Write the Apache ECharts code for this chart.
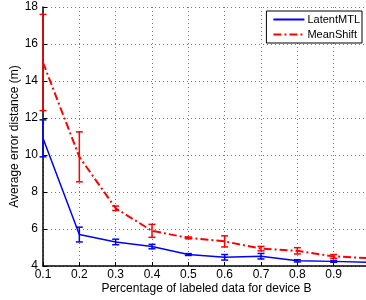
<!DOCTYPE html>
<html>
<head>
<meta charset="utf-8">
<script src="https://cdn.jsdelivr.net/npm/echarts@6/dist/echarts.min.js"></script>
<style>
  html, body { margin: 0; padding: 0; background: #fff; }
  #chart { width: 366px; height: 300px; }
</style>
</head>
<body>
<div id="chart"></div>
<script>
// 横轴：已标注数据比例
var ratios = [0.1, 0.2, 0.3, 0.4, 0.5, 0.6, 0.7, 0.8, 0.9, 1.0];
// 两条曲线的均值
var latentMean = [10.9, 5.7, 5.3, 5.05, 4.62, 4.47, 4.53, 4.28, 4.25, 4.2];
var meanShiftMean = [15.0, 9.9, 7.12, 5.9, 5.52, 5.33, 4.94, 4.82, 4.52, 4.42];
// 误差棒半宽
var latentErr = [1.0, 0.4, 0.15, 0.12, 0.05, 0.15, 0.15, 0.06, 0.05, 0.05];
var meanShiftErr = [2.6, 1.35, 0.12, 0.35, 0.05, 0.3, 0.12, 0.17, 0.1, 0.08];

function pairs(xs, ys) {
  return xs.map(function (x, i) { return [x, ys[i]]; });
}
function bars(xs, ys, es) {
  return xs.map(function (x, i) { return [x, ys[i] - es[i], ys[i] + es[i]]; });
}
// 误差棒绘制
function errorBar(color) {
  return function (params, api) {
    var lo = api.coord([api.value(0), api.value(1)]);
    var hi = api.coord([api.value(0), api.value(2)]);
    var w = 3.5;
    var style = { stroke: color, lineWidth: 1.5 };
    return {
      type: 'group',
      children: [
        { type: 'line', shape: { x1: lo[0], y1: lo[1], x2: hi[0], y2: hi[1] }, style: style },
        { type: 'line', shape: { x1: lo[0] - w, y1: lo[1], x2: lo[0] + w, y2: lo[1] }, style: style },
        { type: 'line', shape: { x1: hi[0] - w, y1: hi[1], x2: hi[0] + w, y2: hi[1] }, style: style }
      ]
    };
  };
}

var myChart = echarts.init(document.getElementById('chart'));
var font = 'Liberation Sans, Arial, sans-serif';

myChart.setOption({
  animation: false,
  grid: { left: 43, top: 7, bottom: 34, right: -4, outerBoundsMode: 'none', containLabel: false },
  legend: {
    orient: 'vertical',
    right: 4,
    top: 11,
    data: [
      { name: 'LatentMTL', itemStyle: { opacity: 0 } },
      { name: 'MeanShift', itemStyle: { opacity: 0 } }
    ],
    backgroundColor: '#fff',
    borderColor: '#000',
    borderWidth: 1,
    borderRadius: 0,
    padding: [3, 2, 3, 6],
    itemGap: 4,
    itemWidth: 31,
    itemHeight: 12,
    textStyle: { fontFamily: font, fontSize: 11, color: '#000', padding: [0, 0, 0, -2] }
  },
  xAxis: {
    type: 'value',
    min: 0.1,
    max: 1.0,
    interval: 0.1,
    name: 'Percentage of labeled data for device B',
    nameLocation: 'middle',
    nameGap: 17,
    nameMoveOverlap: false,
    nameTextStyle: { fontFamily: font, fontSize: 12, color: '#000' },
    axisLine: { lineStyle: { color: '#000', width: 1.5 } },
    axisTick: { inside: true, length: 4, lineStyle: { color: '#000' } },
    axisLabel: {
      fontFamily: font, fontSize: 12, color: '#000', margin: 3,
      showMaxLabel: false,
      formatter: function (v) { return v.toFixed(1); }
    },
    splitLine: { show: true, lineStyle: { color: '#777', type: [1, 3] } }
  },
  yAxis: {
    type: 'value',
    min: 4,
    max: 18,
    interval: 2,
    name: 'Average error distance (m)',
    nameLocation: 'middle',
    nameGap: 22,
    nameMoveOverlap: false,
    nameTextStyle: { fontFamily: font, fontSize: 12, color: '#000' },
    axisLine: { show: true, lineStyle: { color: '#000', width: 1.5 } },
    axisTick: { show: true, inside: true, length: 4, lineStyle: { color: '#000' } },
    axisLabel: { fontFamily: font, fontSize: 12, color: '#000', margin: 5 },
    splitLine: { show: true, lineStyle: { color: '#777', type: [1, 3] } }
  },
  series: [
    {
      name: 'LatentMTL',
      type: 'line',
      symbol: 'none',
      color: '#0000ff',
      lineStyle: { color: '#0000ff', width: 1.5 },
      data: pairs(ratios, latentMean),
      z: 3
    },
    {
      name: 'MeanShift',
      type: 'line',
      symbol: 'none',
      color: '#ff0000',
      lineStyle: { color: '#ff0000', width: 2, type: [8, 3, 2, 3] },
      data: pairs(ratios, meanShiftMean),
      z: 3
    },
    {
      type: 'custom',
      renderItem: errorBar('#0000ff'),
      data: bars(ratios, latentMean, latentErr),
      z: 4
    },
    {
      type: 'custom',
      renderItem: errorBar('#ff0000'),
      data: bars(ratios, meanShiftMean, meanShiftErr),
      z: 4
    }
  ]
});

window.addEventListener('resize', function () { myChart.resize(); });
</script>
</body>
</html>
